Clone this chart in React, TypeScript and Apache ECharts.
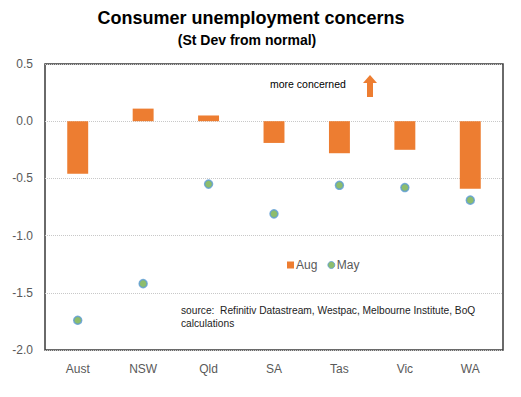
import React, { useEffect, useRef } from "react";
import * as echarts from "echarts";

const categories = ["Aust", "NSW", "Qld", "SA", "Tas", "Vic", "WA"];
const augValues = [-0.46, 0.11, 0.05, -0.19, -0.28, -0.25, -0.59];
const mayValues = [-1.74, -1.42, -0.55, -0.81, -0.56, -0.58, -0.69];
const yTicks = { min: -2.0, max: 0.5, interval: 0.5 };

export default function App() {
  const ref = useRef<HTMLDivElement>(null);
  useEffect(() => {
    if (!ref.current) return;
    const chart = echarts.init(ref.current, undefined, { renderer: "svg" });
    const font = "Liberation Sans, Arial, sans-serif";
    chart.setOption({
      animation: false,
      backgroundColor: "#ffffff",
      title: [
        {
          text: "Consumer unemployment concerns",
          left: 246,
          top: 4,
          textAlign: "center",
          textStyle: { fontFamily: font, fontWeight: "bold", fontSize: 18, color: "#000" },
        },
        {
          text: "(St Dev from normal)",
          left: 242,
          top: 28,
          textAlign: "center",
          textStyle: { fontFamily: font, fontWeight: "bold", fontSize: 14, color: "#000" },
        },
      ],
      grid: {
        left: 45,
        right: 18,
        top: 64,
        bottom: 47,
        show: true,
        borderColor: "#3a3a3a",
        borderWidth: 1.5,
        backgroundColor: "transparent",
      },
      legend: {
        left: 282,
        top: 254,
        itemGap: 10,
        itemWidth: 7,
        itemHeight: 7,
        textStyle: { fontFamily: font, fontSize: 12, color: "#595959", padding: [0, 0, 0, -3] },
        data: [
          { name: "Aug", icon: "rect" },
          { name: "May", icon: "circle", itemStyle: { borderWidth: 1 } },
        ],
      },
      xAxis: {
        type: "category",
        data: categories,
        axisLine: { show: false },
        axisTick: { show: false },
        axisLabel: { fontFamily: font, fontSize: 12, color: "#595959", margin: 13 },
        splitLine: { show: false },
      },
      yAxis: {
        type: "value",
        min: yTicks.min,
        max: yTicks.max,
        interval: yTicks.interval,
        axisLine: { show: false },
        axisTick: { show: false },
        axisLabel: {
          fontFamily: font,
          fontSize: 12,
          color: "#595959",
          margin: 12,
          formatter: (v: number) => v.toFixed(1),
        },
        splitLine: { show: true, lineStyle: { color: "#c8c8c8", type: "dotted", width: 1 } },
      },
      series: [
        {
          name: "Aug",
          type: "bar",
          data: augValues,
          barWidth: "32%",
          itemStyle: { color: "#ED7D31" },
        },
        {
          name: "May",
          type: "scatter",
          data: mayValues,
          symbol: "circle",
          symbolSize: 8,
          itemStyle: { color: "#70AD47", borderColor: "#5B9BD5", borderWidth: 1.5 },
        },
      ],
      graphic: [
        {
          type: "text",
          left: 270,
          top: 78,
          style: { text: "more concerned", fontFamily: font, fontSize: 10.5, fill: "#000" },
        },
        {
          type: "polygon",
          shape: {
            points: [
              [370, 75],
              [377, 83],
              [373, 83],
              [373, 97],
              [367, 97],
              [367, 83],
              [363, 83],
            ],
          },
          style: { fill: "#ED7D31" },
        },
        {
          type: "text",
          left: 181,
          top: 304,
          style: {
            text: "source:  Refinitiv Datastream, Westpac, Melbourne Institute, BoQ\ncalculations",
            fontFamily: font,
            fontSize: 10.2,
            lineHeight: 13,
            fill: "#222",
          },
        },
      ],
    });
    return () => chart.dispose();
  }, []);
  return (
    <div
      ref={ref}
      style={{ position: "fixed", left: 0, top: 0, width: 521, height: 397 }}
    />
  );
}
